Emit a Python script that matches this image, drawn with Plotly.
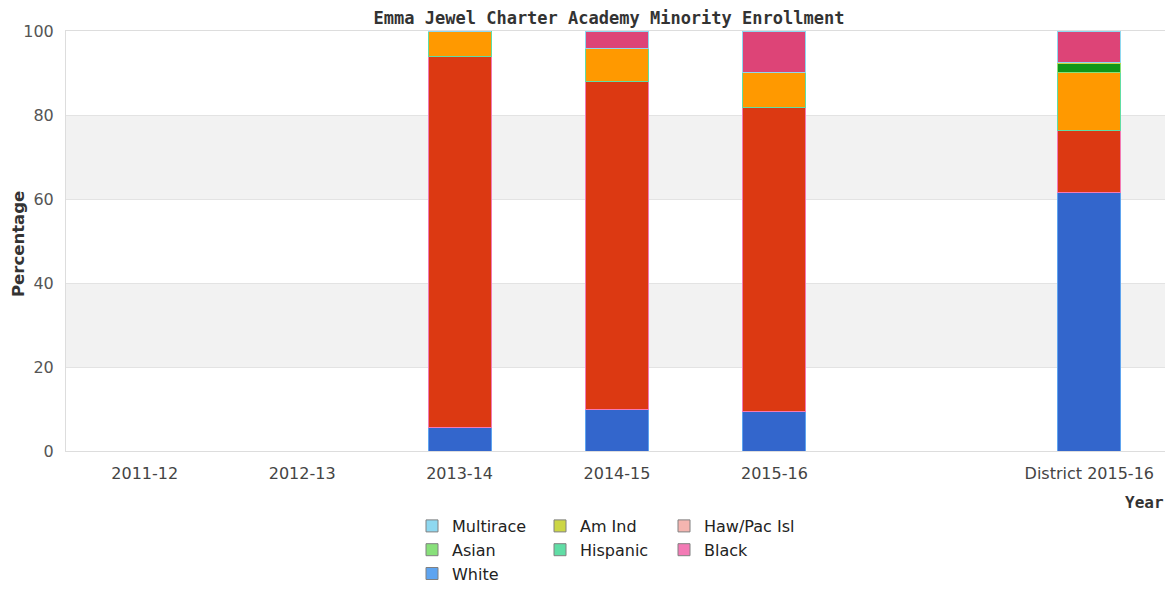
import plotly.graph_objects as go

categories = ["2011-12", "2012-13", "2013-14", "2014-15", "2015-16", " ", "District 2015-16"]

white = [None, None, 5.7, 9.8, 9.4, None, 61.6]
black = [None, None, 88.3, 78.1, 72.3, None, 14.8]
hispanic = [None, None, 6.0, 8.0, 8.5, None, 13.8]
asian = [None, None, 0, 0, 0, None, 2.1]
am_ind = [None, None, 0, 0, 0, None, 0.2]
haw_pac = [None, None, 0, 0, 0, None, 0.1]
multirace = [None, None, 0, 4.1, 9.8, None, 7.4]

y_ticks = [0, 20, 40, 60, 80, 100]

series = [
    ("White", white, "#3366CC", "#5EA4F0"),
    ("Black", black, "#DC3912", "#F37AB5"),
    ("Hispanic", hispanic, "#FF9900", "#60DDA5"),
    ("Asian", asian, "#109618", "#88E07A"),
    ("Am Ind", am_ind, "#990099", "#CCD645"),
    ("Haw/Pac Isl", haw_pac, "#0099C6", "#F5B5B0"),
    ("Multirace", multirace, "#DD4477", "#8ED8F0"),
]

fig = go.Figure()
for name, vals, fill, border in series:
    fig.add_trace(go.Bar(
        x=categories, y=vals, name=name, showlegend=False,
        marker=dict(color=fill, line=dict(color=border, width=1)),
        hoverinfo="name+y",
    ))

legend_cols = {
    "legend": ["Multirace", "Asian", "White"],
    "legend2": ["Am Ind", "Hispanic"],
    "legend3": ["Haw/Pac Isl", "Black"],
}
border_of = {s[0]: s[3] for s in series}
for lg, names in legend_cols.items():
    for nm in names:
        fig.add_trace(go.Bar(
            x=[categories[0]], y=[None], name=nm, legend=lg, legendgroup=nm,
            marker=dict(color=border_of[nm], line=dict(color="#808080", width=1)),
            showlegend=True, hoverinfo="skip",
        ))

# page body adds an 8px offset; figure coordinates are screen minus 8
OFF = 8
W, H = 1173 - OFF, 590 - OFF
L, T = 66 - OFF, 31 - OFF
R = W - (1168 - OFF)
B = H - (451 - OFF)
PW, PH = W - L - R, H - T - B


def px(xs):
    return (xs - OFF - L) / PW


def py(ys):
    return (H - B - (ys - OFF)) / PH


def cx(xs):
    return (xs - OFF) / W


def cy(ys):
    return 1 - (ys - OFF) / H


leg_common = dict(
    orientation="v", xref="container", yref="container", xanchor="left", yanchor="top",
    font=dict(family="DejaVu Sans", size=16, color="#222222"),
    bgcolor="rgba(0,0,0,0)", traceorder="normal", tracegroupgap=6,
    itemclick=False, itemdoubleclick=False,
)
top_y = cy(509)

fig.update_layout(
    width=W, height=H,
    barmode="stack", bargap=0.6,
    paper_bgcolor="white", plot_bgcolor="white",
    margin=dict(l=L, r=R, t=T, b=B, autoexpand=False),
    title=dict(text="<b>Emma Jewel Charter Academy Minority Enrollment</b>",
               font=dict(family="DejaVu Sans Mono", size=17, color="#333333"),
               x=cx(609), xanchor="center", y=cy(18), yanchor="middle", xref="container", yref="container"),
    legend=dict(leg_common, x=cx(412), y=top_y),
    legend2=dict(leg_common, x=cx(540), y=top_y),
    legend3=dict(leg_common, x=cx(664), y=top_y),
    xaxis=dict(
        type="category", categoryorder="array", categoryarray=categories,
        range=[-0.5, 6.5], automargin=False,
        showline=True, linecolor="#DDDDDD", linewidth=1, mirror=True,
        showgrid=False, ticks="", ticklen=0, ticklabelstandoff=8,
        tickfont=dict(family="DejaVu Sans", size=16, color="#444444"),
    ),
    yaxis=dict(
        range=[0, 100], tickvals=y_ticks, automargin=False,
        showline=True, linecolor="#DDDDDD", linewidth=1, mirror=True,
        showgrid=True, gridcolor="#E3E3E3", gridwidth=1,
        zeroline=False, ticks="", ticklen=0, ticklabelstandoff=8,
        tickfont=dict(family="DejaVu Sans", size=16, color="#555555"),
    ),
    shapes=[
        dict(type="rect", xref="paper", yref="y", x0=0, x1=1, y0=20, y1=40,
             fillcolor="#F2F2F2", line=dict(width=0), layer="below"),
        dict(type="rect", xref="paper", yref="y", x0=0, x1=1, y0=60, y1=80,
             fillcolor="#F2F2F2", line=dict(width=0), layer="below"),
    ],
    annotations=[
        dict(text="<b>Percentage</b>", xref="paper", yref="paper",
             x=px(18), y=py(244), textangle=-90, showarrow=False,
             font=dict(family="DejaVu Sans", size=16.5, color="#333333"),
             xanchor="center", yanchor="middle"),
        dict(text="<b>Year</b>", xref="paper", yref="paper",
             x=px(1166), y=py(502), showarrow=False,
             font=dict(family="DejaVu Sans Mono", size=16, color="#333333"),
             xanchor="right", yanchor="middle"),
    ],
)

fig.write_html("out.html")
